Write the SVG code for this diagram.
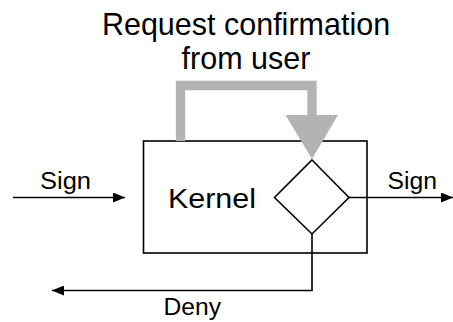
<svg xmlns="http://www.w3.org/2000/svg" width="453" height="322" viewBox="0 0 453 322">
  <style>
    .label { font-family: "Liberation Sans", Arial, sans-serif; fill: #000; }
    .line { fill: none; stroke: #000; stroke-width: 1.6; }
  </style>
  <defs>
    <marker id="arrow" markerWidth="12" markerHeight="10" refX="12" refY="5" orient="auto" markerUnits="userSpaceOnUse">
      <path d="M0,0 L12,5 L0,10 Z" fill="#000"/>
    </marker>
  </defs>
  <rect width="453" height="322" fill="#fff"/>

  <g id="title">
    <text class="label" x="246" y="35" font-size="30.5" text-anchor="middle">Request confirmation</text>
    <text class="label" x="246" y="69" font-size="30.5" text-anchor="middle">from user</text>
  </g>

  <g id="kernel">
    <rect x="143.5" y="141" width="223.5" height="112" fill="#fff" stroke="#000" stroke-width="1.6"/>
    <text class="label" x="168" y="208" font-size="28" textLength="88" lengthAdjust="spacingAndGlyphs">Kernel</text>
  </g>

  <g id="decision">
    <polygon points="312,160 349,197.5 312,234 274.5,197.5" fill="#fff" stroke="#000" stroke-width="1.6"/>
  </g>

  <g id="connectors">
    <!-- feedback path over the kernel -->
    <polyline points="180.5,141 180.5,85.5 312,85.5 312,116" fill="none" stroke="#b3b3b3" stroke-width="9.3"/>
    <polygon points="285.5,115 338,115 312,159" fill="#b3b3b3"/>
    <!-- incoming sign -->
    <line class="line" x1="13" y1="197.5" x2="125" y2="197.5" marker-end="url(#arrow)"/>
    <!-- outgoing sign -->
    <line class="line" x1="349" y1="197.5" x2="453" y2="197.5" marker-end="url(#arrow)"/>
    <!-- deny -->
    <polyline class="line" points="312,234 312,290.5 52,290.5" marker-end="url(#arrow)"/>
  </g>

  <g id="labels">
    <text class="label" x="40" y="188.5" font-size="23" textLength="51" lengthAdjust="spacingAndGlyphs">Sign</text>
    <text class="label" x="387.5" y="189" font-size="23" textLength="49.5" lengthAdjust="spacingAndGlyphs">Sign</text>
    <text class="label" x="163.5" y="315" font-size="23" textLength="57.5" lengthAdjust="spacingAndGlyphs">Deny</text>
  </g>
</svg>
